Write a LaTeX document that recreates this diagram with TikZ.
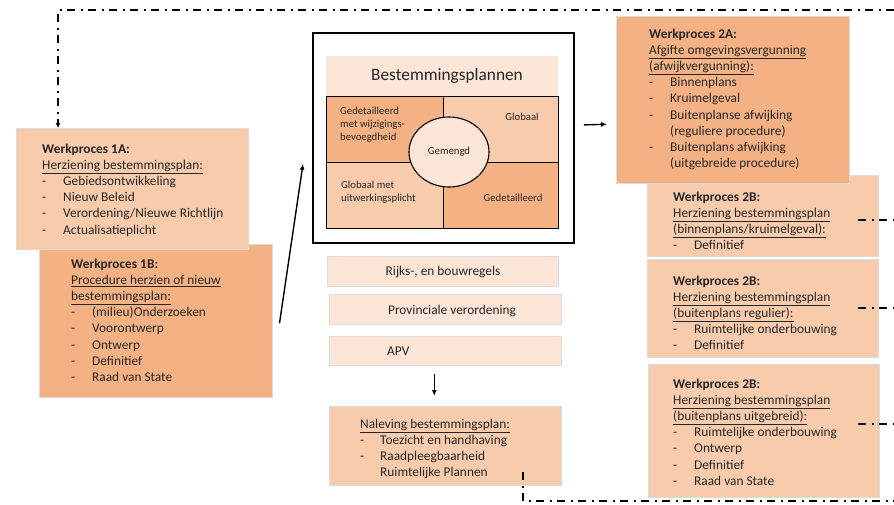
\documentclass[tikz,border=0pt]{standalone}
\usepackage{fontspec}
\setmainfont{Carlito}
\usetikzlibrary{arrows.meta,shapes.geometric}
\definecolor{cdark}{HTML}{F4B183}
\definecolor{clight}{HTML}{F8CBAD}
\definecolor{cpale}{HTML}{FBE5D6}
\definecolor{ctext}{HTML}{262626}
\newcommand\itm[1]{\makebox[21pt][l]{-}#1}
\newcommand\ind{\hspace*{21pt}}
\tikzset{
  rect/.style={draw=black!14, line width=0.5pt, inner sep=0pt, anchor=north west},
  cell/.style={draw=black, line width=1.1pt, inner sep=0pt, anchor=north west},
  txt/.style={inner sep=0pt, anchor=north west, align=left, text=ctext,
    font=\fontsize{13.35}{16.1}\selectfont},
  small/.style={inner sep=0pt, align=left, text=ctext,
    font=\fontsize{10.7}{13}\selectfont},
  arr/.style={line width=1.4pt, -{Latex[length=6pt,width=5pt]}},
  dd/.style={line width=1.6pt, dash pattern=on 8pt off 5.5pt on 2pt off 5.5pt},
}
\begin{document}
\begin{tikzpicture}[x=1pt,y=-1pt]
\useasboundingbox (0,0) rectangle (894,504);
\fill[white] (0,0) rectangle (894,504);

% left boxes
\node[rect, fill=cdark, minimum width=233pt, minimum height=153pt] (wp1b) at (39,244) {};
\node[rect, fill=clight, minimum width=232pt, minimum height=121pt] (wp1a) at (16,128) {};
\node[txt] (t1a) at (42,144) {\textbf{Werkproces 1A:}\\\underline{Herziening bestemmingsplan:}\\\itm{Gebiedsontwikkeling}\\\itm{Nieuw Beleid}\\\itm{Verordening/Nieuwe Richtlijn}\\\itm{Actualisatieplicht}};
\node[txt] (t1b) at (71,259) {\textbf{Werkproces 1B:}\\\underline{Procedure herzien of nieuw}\\\underline{bestemmingsplan:}\\\itm{(milieu)Onderzoeken}\\\itm{Voorontwerp}\\\itm{Ontwerp}\\\itm{Definitief}\\\itm{Raad van State}};

% central block
\node[draw=black, line width=1.8pt, inner sep=0pt, anchor=north west, minimum width=261pt, minimum height=210pt] (main) at (312,32) {};
\node[inner sep=0pt, anchor=north west, fill=cpale, minimum width=232pt, minimum height=40pt] (title) at (326,56) {};
\node[text=ctext, inner sep=0pt, font=\fontsize{17.3}{20}\selectfont] (ttitle) at (447,76) {Bestemmingsplannen};
\node[cell, fill=cdark, minimum width=117pt, minimum height=66pt] (c11) at (326,96) {};
\node[cell, fill=clight, minimum width=115pt, minimum height=66pt] (c12) at (443,96) {};
\node[cell, fill=clight, minimum width=117pt, minimum height=66pt] (c21) at (326,162) {};
\node[cell, fill=cdark, minimum width=115pt, minimum height=66pt] (c22) at (443,162) {};
\node[small, anchor=north west] (tc11) at (340,107) {Gedetailleerd\\met wijzigings-\\bevoegdheid};
\node[small] (tc12) at (522,117) {Globaal};
\node[small, anchor=north west] (tc21) at (341,181) {Globaal met\\uitwerkingsplicht};
\node[small] (tc22) at (513,198) {Gedetailleerd};
\node[ellipse, draw=black, line width=1.1pt, fill=cpale, minimum width=80pt, minimum height=70pt, inner sep=0pt, text=ctext, font=\fontsize{10.7}{13}\selectfont] (gem) at (449,152) {Gemengd};

\node[rect, fill=cpale, minimum width=231pt, minimum height=30pt] (rijks) at (327,256) {};
\node[txt, anchor=center] (trijks) at (443,272) {Rijks-, en bouwregels};
\node[rect, fill=cpale, minimum width=232pt, minimum height=30pt] (prov) at (329,294) {};
\node[txt, anchor=center] (tprov) at (452,311) {Provinciale verordening};
\node[rect, fill=cpale, minimum width=232pt, minimum height=29pt] (apv) at (329,336) {};
\node[txt, anchor=west] (tapv) at (387,351) {APV};
\node[rect, fill=clight, minimum width=232pt, minimum height=79pt] (nal) at (329,406) {};
\node[txt] (tnal) at (360,419) {\underline{Naleving bestemmingsplan:}\\\makebox[20pt][l]{-}Toezicht en handhaving\\\makebox[20pt][l]{-}Raadpleegbaarheid\\\hspace*{20pt}Ruimtelijke Plannen};

% right boxes
\node[rect, fill=clight, minimum width=231pt, minimum height=81pt] (wp2b1) at (647,175) {};
\node[rect, fill=cdark, minimum width=233pt, minimum height=167pt] (wp2a) at (616,16) {};
\node[rect, fill=clight, minimum width=231pt, minimum height=98pt] (wp2b2) at (647,259) {};
\node[rect, fill=clight, minimum width=231pt, minimum height=133pt] (wp2b3) at (648,364) {};
\node[txt] (t2a) at (649,29) {\textbf{Werkproces 2A:}\\\underline{Afgifte omgevingsvergunning}\\\underline{(afwijkvergunning):}\\\itm{Binnenplans}\\\itm{Kruimelgeval}\\\itm{Buitenplanse afwijking}\\\ind(reguliere procedure)\\\itm{Buitenplans afwijking}\\\ind(uitgebreide procedure)};
\node[txt] (t2b1) at (673,192) {\textbf{Werkproces 2B:}\\\underline{Herziening bestemmingsplan}\\\underline{(binnenplans/kruimelgeval):}\\\itm{Definitief}};
\node[txt] (t2b2) at (673,276) {\textbf{Werkproces 2B:}\\\underline{Herziening bestemmingsplan}\\\underline{(buitenplans regulier):}\\\itm{Ruimtelijke onderbouwing}\\\itm{Definitief}};
\node[txt] (t2b3) at (673,379) {\textbf{Werkproces 2B:}\\\underline{Herziening bestemmingsplan}\\\underline{(buitenplans uitgebreid):}\\\itm{Ruimtelijke onderbouwing}\\\itm{Ontwerp}\\\itm{Definitief}\\\itm{Raad van State}};

% arrows
\draw[arr] ([shift={(7,2.5)}]wp1b.east) -- ([shift={(-9,26)}]main.west);
\draw[arr] ([shift={(9,-13)}]main.east) -- ([shift={(-9,24.5)}]wp2a.west);
\draw[arr] ([shift={(-11,8)}]apv.south) -- ([shift={(-11,-10)}]nal.north);

% dash-dot connectors
\coordinate (tl) at (58,10);
\coordinate (tr) at (894,10);
\draw[dd, -{Latex[length=5pt,width=5pt]}] (tr) -- (tl) -- (tl |- wp1a.north);
\coordinate (bl) at (523,472);
\coordinate (bc) at (523,501);
\coordinate (br) at (894,501);
\draw[dd] (bl) -- (bc) -- (br);
\coordinate (r1) at (858,220);
\coordinate (r2) at (858,308);
\coordinate (r3) at (858,424);
\draw[dd] (r1) -- (r1 -| br);
\draw[dd] (r2) -- (r2 -| br);
\draw[dd] (r3) -- (r3 -| br);
\end{tikzpicture}
\end{document}
